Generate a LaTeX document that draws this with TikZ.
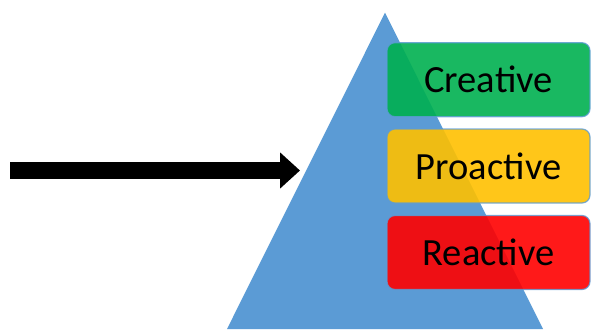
\documentclass[tikz,border=0pt]{standalone}
\usepackage{fontspec}
\setmainfont{Carlito}
\usetikzlibrary{arrows.meta}
\definecolor{triblue}{RGB}{91,155,213}
\definecolor{offgreen}{RGB}{0,176,80}
\definecolor{offyellow}{RGB}{255,192,0}
\definecolor{offred}{RGB}{255,0,0}
\tikzset{
  levelbox/.style={draw=triblue, line width=1.2pt, draw opacity=0.8, fill opacity=0.9, text opacity=1,
    rounded corners=8pt, minimum width=203pt, minimum height=74pt, inner sep=0pt,
    font=\fontsize{38.5}{40}\selectfont, text=black},
}
\begin{document}
\begin{tikzpicture}[x=1pt,y=-1pt]
\useasboundingbox (0,0) rectangle (591,329);
\fill[triblue] (385,12.7) -- (543,329) -- (227,329) -- cycle;
\node[levelbox, fill=offgreen] (creative) at (488.5,79.7) {Creative};
\node[levelbox, fill=offyellow] (proactive) at (488.5,166) {Proactive};
\node[levelbox, fill=offred] (reactive) at (488.5,252.5) {Reactive};
\coordinate (astart) at (10,170.5);
\coordinate (aend) at (300,170.5);
\draw[line width=17.6pt, line cap=butt, -{Triangle[length=20pt,width=35pt]}] (astart) -- (aend);
\end{tikzpicture}
\end{document}
